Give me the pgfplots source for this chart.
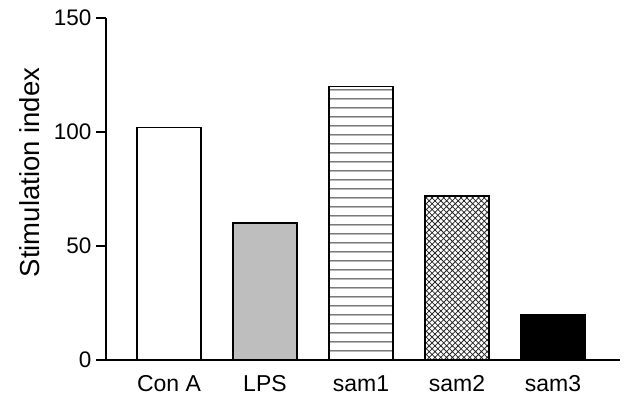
\documentclass[border=0pt]{standalone}
\usepackage{pgfplots}
\pgfplotsset{compat=1.18}
\usepackage{fontspec}
\setmainfont{Liberation Sans}
\usetikzlibrary{patterns}
\pgfdeclarepatternformonly{hlinesx}{\pgfpointorigin}{\pgfpoint{10pt}{8.6pt}}{\pgfpoint{10pt}{8.6pt}}{%
  \pgfsetlinewidth{1pt}%
  \pgfpathmoveto{\pgfpoint{-1pt}{4.3pt}}\pgfpathlineto{\pgfpoint{11pt}{4.3pt}}\pgfusepath{stroke}}
\pgfdeclarepatternformonly{xhatchx}{\pgfpoint{-1pt}{-1pt}}{\pgfpoint{7pt}{7pt}}{\pgfpoint{5.8pt}{5.8pt}}{%
  \pgfsetlinewidth{0.75pt}%
  \pgfpathmoveto{\pgfpoint{-0.5pt}{-0.5pt}}\pgfpathlineto{\pgfpoint{6.3pt}{6.3pt}}%
  \pgfpathmoveto{\pgfpoint{-0.5pt}{6.3pt}}\pgfpathlineto{\pgfpoint{6.3pt}{-0.5pt}}\pgfusepath{stroke}}
\begin{document}
\begin{tikzpicture}[x=1pt,y=1pt]
\path[use as bounding box] (0,0) rectangle (626,398);
\begin{axis}[
  at={(106pt,38pt)}, anchor=south west,
  scale only axis, width=514pt, height=342pt,
  xmin=-0.656, xmax=4.698,
  ymin=0, ymax=150,
  ytick={0,50,100,150},
  xtick={0,1,2,3,4},
  xticklabels={Con A,LPS,sam1,sam2,sam3},
  axis x line*=bottom, axis y line*=left,
  axis line style={line width=1.6pt,-},
  tick align=outside,
  major tick length=10pt,
  ytick style={line width=1.6pt,black},
  xtick style={draw=none},
  /pgf/number format/assume math mode=true,
  yticklabel style={font=\fontsize{22.5}{23}\selectfont, xshift=-1pt},
  xticklabel style={font=\fontsize{23}{24}\selectfont, yshift=-2pt},
  ylabel={Stimulation index},
  ylabel style={font=\fontsize{27.5}{28}\selectfont, at={(axis description cs:-0.148,0.548)}, anchor=center},
  ybar, bar width=64pt, bar shift=0pt,
  clip=false,
]
\addplot[draw=black, line width=1.4pt, fill=white] coordinates {(0,102)};
\addplot[draw=black, line width=1.4pt, fill={rgb,255:red,190;green,190;blue,190}] coordinates {(1,60)};
\addplot[draw=black, line width=1.4pt, pattern=hlinesx, pattern color=black!80] coordinates {(2,120)};
\addplot[draw=black, line width=1.4pt, pattern=xhatchx, pattern color=black!85] coordinates {(3,72)};
\addplot[draw=black, line width=1.4pt, fill=black] coordinates {(4,20)};
\end{axis}
\end{tikzpicture}
\end{document}
